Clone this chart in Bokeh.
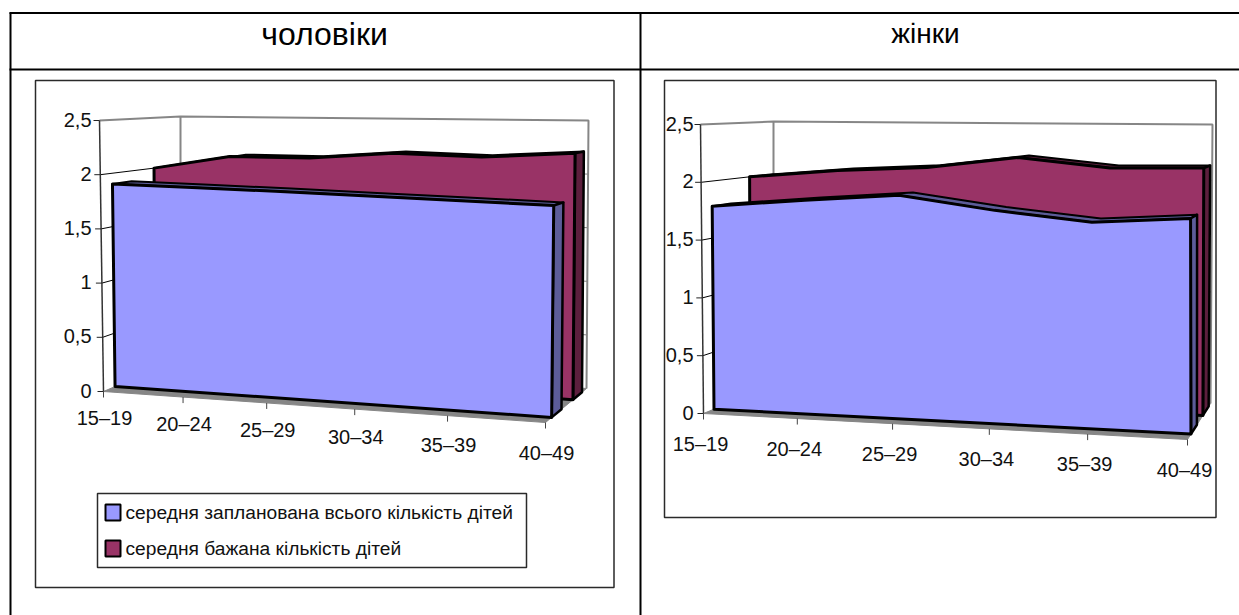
from bokeh.plotting import figure
from bokeh.models import Range1d
from bokeh.core.properties import value
from bokeh.embed import file_html
from bokeh.resources import INLINE

categories = ["15–19", "20–24", "25–29", "30–34", "35–39", "40–49"]
men_planned = [1.90, 1.885, 1.87, 1.85, 1.83, 1.81]
men_desired = [2.00, 2.13, 2.13, 2.19, 2.17, 2.22]
women_planned = [1.78, 1.85, 1.91, 1.80, 1.72, 1.77]
women_desired = [2.00, 2.07, 2.11, 2.21, 2.13, 2.14]
y_values = [0, 0.5, 1, 1.5, 2, 2.5]
y_labels = ["0", "0,5", "1", "1,5", "2", "2,5"]
titles = ["чоловіки", "жінки"]
legend_labels = ["середня запланована всього кількість дітей", "середня бажана кількість дітей"]

BLUE, BLUE_D = "#9999FF", "#5C5C99"
MAROON, MAROON_D = "#993366", "#5C1F3D"
GREY = "#868686"
ARIAL = value("Liberation Sans")

p = figure(width=1239, height=615, x_range=Range1d(0, 1239), y_range=Range1d(615, 0),
           output_backend="svg", toolbar_location=None, min_border=0)
p.axis.visible = False
p.grid.visible = False
p.outline_line_color = None
p.background_fill_color = "white"


def seg(xs, ys, color="black", w=1.0):
    p.line(xs, ys, line_color=color, line_width=w)


def txt(x, y, s, size, align="center", font=ARIAL, color="#111111"):
    p.text([x], [y], text=[s], text_font=font, text_font_size=value(size), text_align=align,
           text_baseline="middle", text_color=color)


def panel(box, k, planned, desired, blue_w, maroon_w, xlabel_off, ylabel_x, frame):
    def pr(u, w, h):
        def lerp(a, b, t):
            return (a[0] + (b[0] - a[0]) * t, a[1] + (b[1] - a[1]) * t)
        bot = lerp(lerp(box["fl0"], box["fr0"], u), lerp(box["bl0"], box["br0"], u), w)
        top = lerp(lerp(box["fl1"], box["fr1"], u), lerp(box["bl1"], box["br1"], u), w)
        return lerp(bot, top, h / 2.5)

    def cat_u(i):
        s = i / 5
        return s / (1 + k * (1 - s))

    def line3(pts, color="black", w=1.0):
        seg([q[0] for q in pts], [q[1] for q in pts], color, w)

    fx, fy = frame
    p.quad(left=fx[0], right=fx[1], top=fy[0], bottom=fy[1], fill_color="white",
           line_color="#2a2a2a", line_width=1.5)

    # floor
    fl = [pr(0, 0, 0), pr(1, 0, 0), pr(1, 1, 0), pr(0, 1, 0)]
    p.patch([q[0] for q in fl], [q[1] for q in fl], fill_color=GREY, line_color=GREY)

    # walls
    line3([pr(0, 0, 2.5), pr(0, 1, 2.5), pr(1, 1, 2.5), pr(1, 1, 0)], GREY, 2)
    line3([pr(0, 1, 0), pr(0, 1, 2.5)], GREY, 2)
    for v in y_values[1:-1]:
        line3([pr(0, 1, v), pr(1, 1, v)], GREY, 1)
        line3([pr(0, 0, v), pr(0, 1, v)], "black", 1)
    line3([pr(0, 0, 0), pr(0, 0, 2.5)], "#333333", 1.5)

    # y axis ticks and labels
    for v, s in zip(y_values, y_labels):
        q = pr(0, 0, v)
        seg([q[0] - 6, q[0]], [q[1], q[1]], "#222222", 1)
        txt(ylabel_x, q[1] - 1, s, "20px", "right")

    # x ticks and labels
    for i, s in enumerate(categories):
        u = cat_u(i)
        q = pr(u, 0, 0)
        seg([q[0], q[0]], [q[1], q[1] + 6], "#444444", 1)
        txt(q[0] + xlabel_off[0], q[1] + xlabel_off[1] + xlabel_off[2] * u, s, "20px")

    # ribbons, back one first
    for vals, (w0, w1), face, dark in ((desired, maroon_w, MAROON, MAROON_D),
                                       (planned, blue_w, BLUE, BLUE_D)):
        us = [cat_u(i) for i in range(6)]
        top_back = [pr(u, w1, v) for u, v in zip(us, vals)]
        top_front = [pr(u, w0, v) for u, v in zip(us, vals)]
        poly = top_front + top_back[::-1]
        p.patch([q[0] for q in poly], [q[1] for q in poly], fill_color=dark,
                line_color="black", line_width=2, line_join="round")
        side = [pr(1, w0, 0), pr(1, w1, 0), pr(1, w1, vals[-1]), pr(1, w0, vals[-1])]
        p.patch([q[0] for q in side], [q[1] for q in side], fill_color=dark,
                line_color="black", line_width=2.5, line_join="round")
        front = [pr(0, w0, 0)] + top_front + [pr(1, w0, 0)]
        p.patch([q[0] for q in front], [q[1] for q in front], fill_color=face,
                line_color="black", line_width=3, line_join="round")


# table rules
for xs, ys, w in (([9, 1239], [12.5, 12.5], 2), ([9, 1239], [69, 69], 2), ([10, 10], [12, 615], 2),
                  ([640, 640], [12, 615], 2)):
    seg(xs, ys, "black", w)
txt(324, 33, titles[0], "32px", font=ARIAL, color="black")
txt(925, 33, titles[1], "28px", font=ARIAL, color="black")

panel(dict(fl0=(103, 391), fr0=(545, 422), bl0=(180, 358), br0=(586, 388),
           fl1=(99, 120), fr1=(548, 125), bl1=(180, 116), br1=(588, 120)),
      0.139, men_planned, men_desired, (0.15, 0.39), (0.67, 0.89), (1, 26, 4), 91,
      ((35, 613.5), (80, 587)))

panel(dict(fl0=(703, 413), fr0=(1187, 439), bl0=(773, 384), br0=(1210, 403),
           fl1=(700, 124), fr1=(1186, 130), bl1=(773, 121), br1=(1212, 124)),
      0.04, women_planned, women_desired, (0.15, 0.41), (0.67, 0.92), (-3, 30, 0), 693,
      ((664, 1215.5), (80, 517)))

# legend
p.quad(left=97, right=526, top=493, bottom=567, fill_color="white", line_color="#2a2a2a", line_width=1.5)
for yy, col, s in ((512, BLUE, legend_labels[0]), (548, MAROON, legend_labels[1])):
    p.quad(left=105, right=120, top=yy - 8, bottom=yy + 8, fill_color=col, line_color="black", line_width=2)
    txt(125, yy, s, "19.2px", "left")

open("out.html", "w").write(file_html(p, INLINE))
